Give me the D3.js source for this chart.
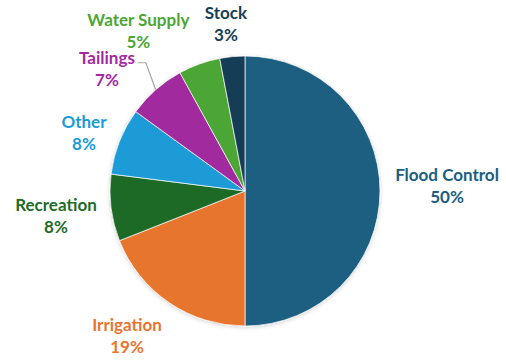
<!DOCTYPE html>
<html>
<head>
<meta charset="utf-8">
<script src="https://cdn.jsdelivr.net/npm/d3@7"></script>
<style>
  body { margin: 0; background: #fff; }
  text { font-family: Lato, "Open Sans", sans-serif; font-weight: bold; font-size: 17px; }
</style>
</head>
<body>
<div id="chart"></div>
<script>
// data
var categories = ["Flood Control", "Irrigation", "Recreation", "Other", "Tailings", "Water Supply", "Stock"];
var shares = [50, 19, 8, 8, 7, 5, 3];
var colors = ["#1a5e80", "#e8752f", "#1f6b28", "#1a9bd7", "#a2299f", "#4ca634", "#163e57"];

// label nudges from the slice centroid at label radius (layout only)
var labelRadius = 185;
var labelNudge = [[17, -5.5], [-14, -8], [-5.5, 2.3], [11, 10], [-15.7, 16.5], [-44, 14], [-1.6, 17]];

var w = 506, h = 362;
var cx = 245, cy = 191, r = 135;

var svg = d3.select("#chart").append("svg")
    .attr("width", w)
    .attr("height", h);

var defs = svg.append("defs");
var f = defs.append("filter").attr("id", "shadow")
    .attr("x", "-10%").attr("y", "-10%").attr("width", "120%").attr("height", "120%");
f.append("feDropShadow")
    .attr("dx", 0).attr("dy", 1).attr("stdDeviation", 2)
    .attr("flood-color", "#000").attr("flood-opacity", 0.18);

var g = svg.append("g")
    .attr("transform", "translate(" + cx + "," + cy + ")");

var pie = d3.pie().sort(null).value(function(d) { return d; });
var arcs = pie(shares);

var arc = d3.arc().innerRadius(0).outerRadius(r);
var edgeArc = d3.arc().innerRadius(r).outerRadius(r);
var labelArc = d3.arc().innerRadius(labelRadius).outerRadius(labelRadius);

g.append("g")
    .attr("filter", "url(#shadow)")
  .selectAll("path")
    .data(arcs)
    .enter()
  .append("path")
    .attr("d", arc)
    .attr("fill", function(d, i) { return colors[i]; })
    .attr("stroke", "#fff")
    .attr("stroke-width", 0.7);

function labelPos(d, i) {
    var c = labelArc.centroid(d);
    return [c[0] + labelNudge[i][0], c[1] + labelNudge[i][1]];
}

// labels: two lines centred on labelPos
var labels = g.selectAll(".lbl")
    .data(arcs)
    .enter()
  .append("text")
    .attr("class", "lbl")
    .attr("text-anchor", "middle")
    .attr("fill", function(d, i) { return colors[i]; })
    .attr("transform", function(d, i) {
        var p = labelPos(d, i);
        return "translate(" + p[0] + "," + p[1] + ")";
    });

labels.append("tspan")
    .attr("x", 0)
    .attr("y", -5)
    .text(function(d, i) { return categories[i]; });
labels.append("tspan")
    .attr("x", 0)
    .attr("y", 17)
    .text(function(d, i) { return shares[i] + "%"; });

// leader line for Tailings
var ti = categories.indexOf("Tailings");
var tb = labels.filter(function(d, i) { return i == ti; }).select("tspan").node().getBBox();
var tp = labelPos(arcs[ti], ti);
var tEdge = edgeArc.centroid(arcs[ti]);
var lx0 = tp[0] + tb.x + tb.width + 3;
var ly0 = tp[1] - 6;
g.append("path")
    .attr("d", "M" + lx0 + "," + ly0 + "H" + (lx0 + 8) + "L" + tEdge[0] + "," + tEdge[1])
    .attr("fill", "none")
    .attr("stroke", "#a6a6a6")
    .attr("stroke-width", 1.2);
</script>
</body>
</html>
